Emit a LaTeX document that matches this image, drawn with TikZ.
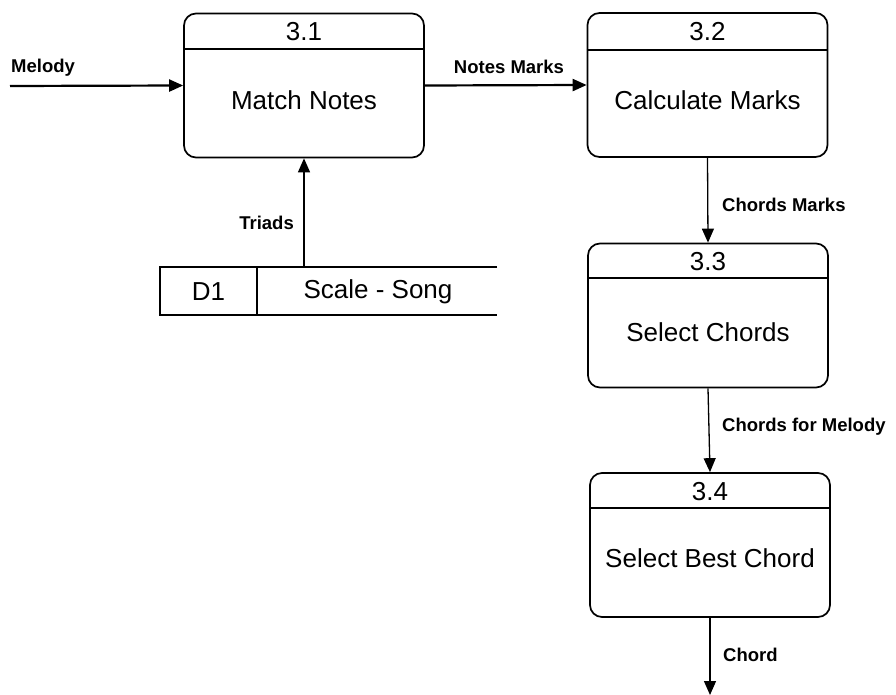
\documentclass[tikz,border=0pt]{standalone}
\usepackage{fontspec}
\setmainfont{Liberation Sans}
\usetikzlibrary{arrows.meta}
\tikzset{
  proc/.style={draw, line width=1.7pt, rounded corners=12pt, minimum width=240pt, minimum height=144pt, inner sep=0pt},
  hdr/.style={line width=1.7pt},
  numtxt/.style={font=\fontsize{26}{28}\selectfont, inner sep=0pt},
  titletxt/.style={font=\fontsize{26}{28}\selectfont, inner sep=0pt},
  lbl/.style={font=\bfseries\fontsize{18.5}{20}\selectfont, inner sep=0pt},
  hflow/.style={line width=2.2pt, -{Triangle[length=14pt,width=12pt]}},
  vflow/.style={line width=1.3pt, -{Triangle[length=14pt,width=12pt]}},
  storeline/.style={line width=1.7pt},
}
\begin{document}
\begin{tikzpicture}[x=1pt,y=-1pt]
\useasboundingbox (0,0) rectangle (896,695);

% processes
\node[proc] (b1) at (304,85.5) {};
\node[proc] (b2) at (707.5,85) {};
\node[proc] (b3) at (708,315.5) {};
\node[proc] (b4) at (710,545) {};

\draw[hdr] (b1.west |- 0,49) -- (b1.east |- 0,49);
\draw[hdr] (b2.west |- 0,50) -- (b2.east |- 0,50);
\draw[hdr] (b3.west |- 0,278) -- (b3.east |- 0,278);
\draw[hdr] (b4.west |- 0,508) -- (b4.east |- 0,508);

\node[numtxt] (n1) at (304,32) {3.1};
\node[numtxt] (n2) at (707.5,32) {3.2};
\node[numtxt] (n3) at (708,262) {3.3};
\node[numtxt] (n4) at (710,492) {3.4};

\node[titletxt] (t1) at (304,100) {Match Notes};
\node[titletxt] (t2) at (707.5,100) {Calculate Marks};
\node[titletxt] (t3) at (708,332) {Select Chords};
\node[titletxt] (t4) at (710,558) {Select Best Chord};

% data store
\node[minimum width=337pt, minimum height=48pt, inner sep=0pt] (store) at (328.5,291) {};
\draw[storeline] (store.north east) -- (store.north west) -- (store.south west) -- (store.south east);
\draw[storeline] (257,267) -- (257,315);
\node[numtxt] (d1) at (208.5,292) {D1};
\node[titletxt] (ss) at (378,292) {Scale - Song};

% flows
\coordinate (min) at (10,86);
\coordinate (cout) at (710,695);
\draw[hflow] (min) -- (b1.west);
\draw[hflow] (b1.east) -- (b2.west);
\draw[vflow] (b1.south |- store.north) -- (b1.south);
\draw[vflow] (b2.south) -- (b3.north);
\draw[vflow] (b3.south) -- (b4.north);
\draw[vflow] (b4.south) -- (cout);

% labels
\node[lbl, anchor=west] (lmel) at (11,68) {Melody};
\node[lbl] (lnm) at (509,67) {Notes Marks};
\node[lbl, anchor=east] (ltr) at (294,223) {Triads};
\node[lbl, anchor=west] (lcm) at (722,205) {Chords Marks};
\node[lbl, anchor=west] (lcfm) at (722,427) {Chords for Melody};
\node[lbl, anchor=west] (lch) at (723,655) {Chord};
\end{tikzpicture}
\end{document}
